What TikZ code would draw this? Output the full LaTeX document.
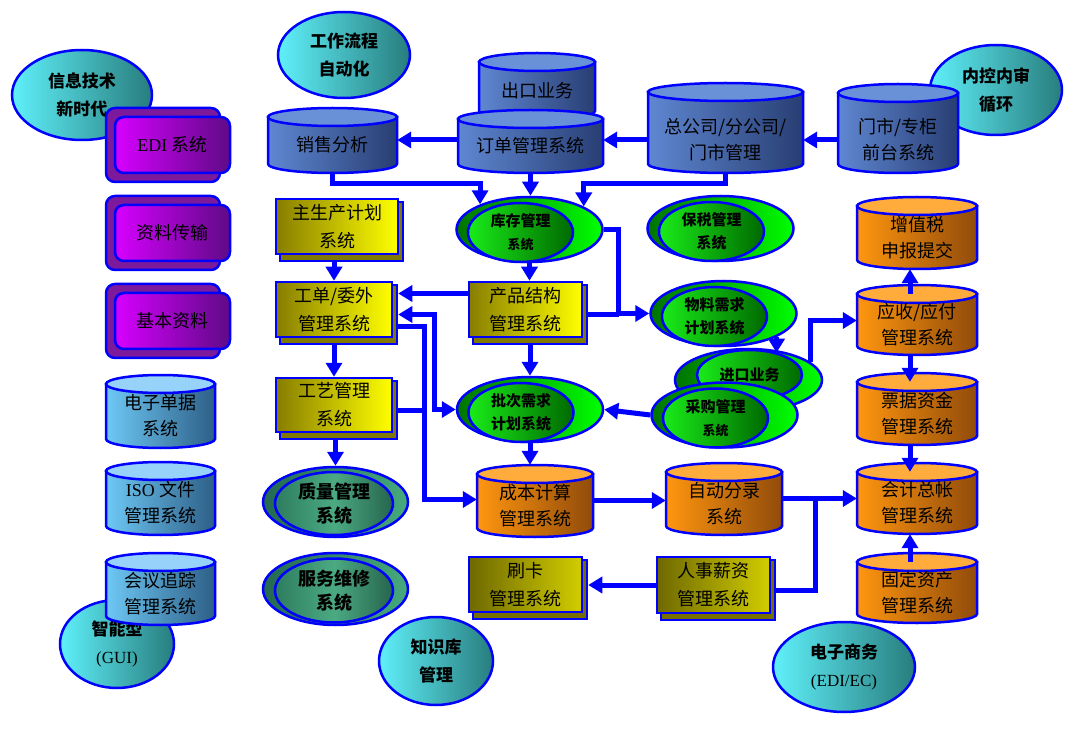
\documentclass[tikz,border=0pt]{standalone}
\usepackage{fontspec}
\setmainfont{Liberation Serif}
\newfontfamily\cjk{Noto Sans CJK SC}
\usetikzlibrary{arrows.meta,shapes.geometric,calc}

% Couleurs
\definecolor{bleu}{RGB}{0,0,255}
\definecolor{fonceG}{RGB}{95,135,210}
\definecolor{fonceD}{RGB}{40,62,115}
\definecolor{fonceC}{RGB}{105,145,215}
\definecolor{clairG}{RGB}{110,200,245}
\definecolor{clairD}{RGB}{45,95,135}
\definecolor{clairC}{RGB}{150,210,250}
\definecolor{orangeG}{RGB}{255,150,15}
\definecolor{orangeD}{RGB}{145,75,10}
\definecolor{orangeC}{RGB}{255,172,60}
\definecolor{jauneG}{RGB}{135,125,0}
\definecolor{jauneD}{RGB}{255,255,0}
\definecolor{jauneF}{RGB}{128,120,0}
\definecolor{kakiG}{RGB}{110,105,0}
\definecolor{kakiD}{RGB}{210,205,0}
\definecolor{kakiF}{RGB}{120,110,0}
\definecolor{violetG}{RGB}{215,0,255}
\definecolor{violetD}{RGB}{95,10,135}
\definecolor{violetF}{RGB}{125,25,155}
\definecolor{cyanG}{RGB}{95,240,250}
\definecolor{cyanD}{RGB}{40,125,125}
\definecolor{vertsombre}{RGB}{0,115,0}
\definecolor{vertvif}{RGB}{0,255,0}
\definecolor{vertclair}{RGB}{25,235,25}
\definecolor{vertfonce}{RGB}{0,105,0}
\definecolor{tealA}{RGB}{35,105,80}
\definecolor{tealB}{RGB}{70,170,125}
\definecolor{tealL}{RGB}{45,125,95}
\definecolor{tealC}{RGB}{75,170,130}
\definecolor{tealD}{RGB}{38,100,78}

% Cylindre : [options], nom, teinte, x0, y0, x1, y1, texte
\newcommand{\cyl}[8][]{%
  \path[bord, left color=#3G, right color=#3D]
    (#4,#5+9) -- (#4,#7-9)
    arc[start angle=180, end angle=0, x radius={(#6-#4)/2}, y radius=9]
    -- (#6,#5+9) -- cycle;
  \path[bord, fill=#3C] ({(#4+#6)/2},#5+9) ellipse [x radius={(#6-#4)/2}, y radius=9];
  \node[cyltexte, minimum width={(#6-#4)*1pt}, minimum height={(#7-#5-9)*1pt}, #1]
    (#2) at ({(#4+#6)/2},{(#5+9+#7)/2}) {#8};
}
% Document : nom, cx, cy, largeur, hauteur, teinte, texte
\newcommand{\docu}[7]{%
  \node[docfond, fill=#6F, minimum width={(#4+1)*1pt}, minimum height={(#5+4)*1pt}]
    (#1-b) at (#2+4.5,#3+5) {};
  \node[docface, left color=#6G, right color=#6D, minimum width={#4*1pt}, minimum height={#5*1pt}]
    (#1) at (#2,#3) {#7};
}

\begin{document}
\begin{tikzpicture}[x=1pt,y=-1pt,>={Triangle[length=14pt,width=16pt]},
  bord/.style={draw=bleu, line width=2.5pt},
  fleche/.style={draw=bleu, line width=5pt, ->},
  fleches/.style={draw=bleu, line width=5pt, <->},
  lien/.style={draw=bleu, line width=5pt},
  bulle/.style={ellipse, bord, inner sep=0, left color=cyanG, right color=cyanD,
    align=center, font=\cjk\bfseries\fontsize{17}{28}\selectfont},
  vertfond/.style={ellipse, bord, inner sep=0, minimum width=146pt, minimum height=65pt,
    left color=vertsombre, right color=vertvif},
  vertface/.style={ellipse, bord, inner sep=0, minimum width=105pt, minimum height=59pt,
    left color=vertclair, right color=vertfonce,
    align=center, font=\cjk\bfseries\fontsize{15}{23}\selectfont},
  tealfond/.style={ellipse, bord, inner sep=0, minimum width=145pt, minimum height=70pt,
    left color=tealA, right color=tealB},
  tealface/.style={ellipse, bord, inner sep=0, minimum width=118pt, minimum height=63pt,
    left color=tealL, right color=tealD, middle color=tealC,
    align=center, font=\cjk\bfseries\fontsize{18}{24}\selectfont},
  violetfond/.style={rectangle, rounded corners=9pt, bord, fill=violetF,
    minimum width=114pt, minimum height=74pt},
  violetface/.style={rectangle, rounded corners=9pt, bord, left color=violetG, right color=violetD,
    minimum width=115pt, minimum height=56pt, font=\cjk\fontsize{18}{26}\selectfont},
  cyltexte/.style={inner sep=0, align=center, font=\cjk\fontsize{18}{26}\selectfont},
  docfond/.style={rectangle, bord, inner sep=0},
  docface/.style={rectangle, bord, inner sep=0, align=center, font=\cjk\fontsize{18}{28}\selectfont}]

% Cadre
\fill[white] (0,0) rectangle (1080,738);
\useasboundingbox (0,0) rectangle (1080,738);

% Bulles
\node[bulle, minimum width=140pt, minimum height=90pt] (info) at (82,95) {信息技术\\新时代};
\node[bulle, minimum width=132pt, minimum height=86pt] (flux) at (344,55) {工作流程\\自动化};
\node[bulle, minimum width=132pt, minimum height=90pt] (neikong) at (996,90) {内控内审\\循环};
\node[bulle, minimum width=114pt, minimum height=88pt] (gui) at (117,644) {智能型\\{\rmfamily\mdseries (GUI)}};
\node[bulle, minimum width=114pt, minimum height=88pt] (zhishi) at (436,661) {知识库\\管理};
\node[bulle, minimum width=142pt, minimum height=90pt] (shangwu) at (844,667) {电子商务\\{\rmfamily\mdseries (EDI/EC)}};

% Boutons violets
\node[violetfond] (edi-b) at (163,145) {};
\node[violetface] (edi) at (172.5,145) {{\rmfamily EDI} 系统};
\node[violetfond] (ziliao-b) at (163,233) {};
\node[violetface] (ziliao) at (172.5,233) {资料传输};
\node[violetfond] (jiben-b) at (163,321) {};
\node[violetface] (jiben) at (172.5,321) {基本资料};

% Bases bleu clair
\cyl{danju}{clair}{106}{375}{215}{448}{电子单据\\系统}
\cyl{iso}{clair}{106}{462}{215}{535}{{\rmfamily ISO} 文件\\管理系统}
\cyl{huiyi}{clair}{106}{553}{215}{625}{会议追踪\\管理系统}

% Bases bleu foncé
\cyl{xiaoshou}{fonce}{268}{108}{397}{173}{销售分析}
\cyl{chukou}{fonce}{479}{53}{595}{120}{出口业务}
\cyl{dingdan}{fonce}{458}{110}{603}{173}{订单管理系统}
\cyl[yshift=-7.5pt, minimum height=66pt]{zong}{fonce}{648}{83}{803}{173}{总公司/分公司/\\门市管理}
\cyl[yshift=-7pt, minimum height=66pt]{menshi}{fonce}{838}{84}{958}{173}{门市/专柜\\前台系统}

% Bases orange
\cyl{zengzhi}{orange}{857}{197}{977}{269}{增值税\\申报提交}
\cyl{yingshou}{orange}{857}{285}{977}{355}{应收/应付\\管理系统}
\cyl{piaoju}{orange}{857}{373}{977}{445}{票据资金\\管理系统}
\cyl{kuaiji}{orange}{857}{463}{977}{534}{会计总帐\\管理系统}
\cyl{guding}{orange}{857}{553}{977}{623}{固定资产\\管理系统}
\cyl{chengben}{orange}{477}{465}{593}{537}{成本计算\\管理系统}
\cyl{fenlu}{orange}{666}{463}{782}{535}{自动分录\\系统}

% Documents
\docu{zhusheng}{337}{226.5}{122}{55}{jaune}{主生产计划\\系统}
\docu{gongdan}{334}{309.5}{116}{55}{jaune}{工单/委外\\管理系统}
\docu{gongyi}{334}{405}{116}{54}{jaune}{工艺管理\\系统}
\docu{chanpin}{525.5}{309.5}{113}{55}{jaune}{产品结构\\管理系统}
\docu{shuaka}{525.5}{584.5}{113}{55}{kaki}{刷卡\\管理系统}
\docu{renshi}{713.5}{585}{113}{56}{kaki}{人事薪资\\管理系统}

% Ellipses vertes
\node[vertfond] (kucun) at (529.5,229.5) {};
\node[vertface] (kucun-t) at (520.5,232.5) {库存管理\\{\fontsize{13}{20}\selectfont 系统}};
\node[vertfond] (baoshui) at (720.5,228.5) {};
\node[vertface] (baoshui-t) at (711.5,231.5) {保税管理\\系统};
\node[vertfond] (wuliao) at (723.5,313.5) {};
\node[vertface] (wuliao-t) at (714.5,316.5) {物料需求\\计划系统};
\node[vertfond, minimum width=147pt, minimum height=62pt] (jinkou) at (748.5,380) {};
\node[vertface, minimum height=50pt] (jinkou-t) at (749.5,375) {进口业务};
\node[vertfond] (caigou) at (724.5,415) {};
\node[vertface] (caigou-t) at (715.5,418) {采购管理\\{\fontsize{13}{20}\selectfont 系统}};
\node[vertfond] (pici) at (530,409.5) {};
\node[vertface] (pici-t) at (521,412.5) {批次需求\\计划系统};

% Ellipses sarcelle
\node[tealfond] (zhiliang) at (335.5,502) {};
\node[tealface] (zhiliang-t) at (334,503.5) {质量管理\\系统};
\node[tealfond, minimum height=72pt] (fuwu) at (335.5,589) {};
\node[tealface, minimum height=64pt] (fuwu-t) at (334,590.5) {服务维修\\系统};

% Flux du haut
\draw[fleche] (menshi.west) -- (menshi.west -| zong.east);
\draw[fleche] (zong.west) -- (zong.west -| dingdan.east);
\draw[fleche] ([yshift=6pt]dingdan.west) -- ([yshift=6pt]dingdan.west -| xiaoshou.east);
\draw[fleche] (xiaoshou.south) -- ++(0,10) -| (kucun.153);
\draw[fleche] (dingdan.south) -- (dingdan.south |- kucun.north);
\draw[fleche] (zong.south) -- ++(0,10) -| (kucun.23);

% Production
\draw[fleche] (gongdan.north |- zhusheng-b.south) -- (gongdan.north);
\draw[fleche] (kucun.south) -- (kucun.south |- chanpin.north);
\draw[fleche] ([yshift=16pt]chanpin.west) -- ([yshift=16pt]chanpin.west -| gongdan-b.east);
\coordinate (tronc) at ([xshift=26pt]gongdan-b.east);
\draw[fleches] (gongdan-b.east) -- ++(36,0) |- (pici.west);
\draw[fleche] ([yshift=-12.5pt]gongdan-b.east) -- ([yshift=-12.5pt]gongdan-b.east -| tronc)
  |- ([yshift=6pt]chengben.west);
\draw[lien] (gongyi-b.east) -- (gongyi-b.east -| tronc);
\draw[fleche] (gongyi.north |- gongdan-b.south) -- (gongyi.north);
\draw[fleche] (zhiliang.north |- gongyi-b.south) -- (zhiliang.north);
\draw[fleche] (pici.north |- chanpin-b.south) -- (pici.north);
\draw[fleche] (pici.south) -- ([yshift=9pt]pici.south |- chengben.north);

% Besoins matières
\coordinate (jonction) at ([xshift=15pt]kucun.east);
\draw[fleche] (kucun.east) -- (jonction) |- (wuliao.west);
\draw[lien] (chanpin-b.east) -- (chanpin-b.east -| jonction);
\draw[fleche] (wuliao.-24) -- ([yshift=-5pt]wuliao.-24 |- jinkou.north);
\draw[fleche] (jinkou.16) |- ([yshift=4pt]yingshou.west);
\draw[fleche] (caigou.west) -- (pici.east);

% Comptabilité
\draw[fleche] ([xshift=-7pt]yingshou.north) -- ([xshift=-7pt]zengzhi.south);
\draw[fleche] ([xshift=-7pt]yingshou.south) -- ([xshift=-7pt]piaoju.north);
\draw[fleche] ([xshift=-7pt]piaoju.south) -- ([xshift=-7pt]kuaiji.north);
\draw[fleche] ([xshift=-7pt]guding.north) -- ([xshift=-7pt]kuaiji.south);
\draw[fleche] ([yshift=5pt]chengben.east) -- ([yshift=5pt]chengben.east -| fenlu.west);
\coordinate (jonction2) at ([xshift=33pt,yshift=5pt]fenlu.east);
\draw[fleche] ([yshift=5pt]fenlu.east) -- ([yshift=5pt]fenlu.east -| kuaiji.west);
\draw[lien] (renshi-b.east) -| (jonction2);
\draw[fleche] (renshi.west) -- (renshi.west -| shuaka-b.east);

\end{tikzpicture}
\end{document}
